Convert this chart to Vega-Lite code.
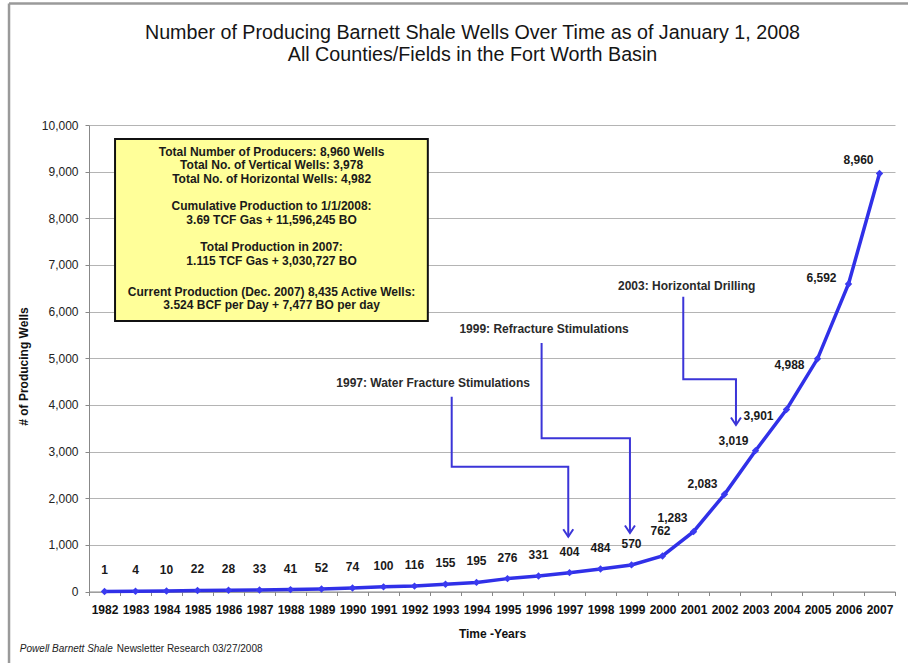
{
  "$schema": "https://vega.github.io/schema/vega-lite/v6.json",
  "width": 806,
  "height": 466.5,
  "autosize": {"type": "none"},
  "padding": {"left": 89, "top": 125, "right": 13, "bottom": 71.5},
  "background": "white",
  "title": {
    "text": ["Number of Producing Barnett Shale Wells Over Time as of January 1, 2008", "All Counties/Fields in the Fort Worth Basin"],
    "anchor": "middle",
    "frame": "group",
    "dx": -19.5,
    "offset": 0,
    "dy": 62,
    "font": "Liberation Sans",
    "fontSize": 19.7,
    "fontWeight": "normal",
    "lineHeight": 22,
    "color": "#151515"
  },
  "config": {
    "view": {"stroke": null},
    "font": "Liberation Sans",
    "text": {"font": "Liberation Sans"},
    "axis": {"labelOverlap": false}
  },
  "datasets": {
    "wells": [
      {"year": 1982, "wells": 1},
      {"year": 1983, "wells": 4},
      {"year": 1984, "wells": 10},
      {"year": 1985, "wells": 22},
      {"year": 1986, "wells": 28},
      {"year": 1987, "wells": 33},
      {"year": 1988, "wells": 41},
      {"year": 1989, "wells": 52},
      {"year": 1990, "wells": 74},
      {"year": 1991, "wells": 100},
      {"year": 1992, "wells": 116},
      {"year": 1993, "wells": 155},
      {"year": 1994, "wells": 195},
      {"year": 1995, "wells": 276},
      {"year": 1996, "wells": 331},
      {"year": 1997, "wells": 404},
      {"year": 1998, "wells": 484},
      {"year": 1999, "wells": 570},
      {"year": 2000, "wells": 762},
      {"year": 2001, "wells": 1283},
      {"year": 2002, "wells": 2083},
      {"year": 2003, "wells": 3019},
      {"year": 2004, "wells": 3901},
      {"year": 2005, "wells": 4988},
      {"year": 2006, "wells": 6592},
      {"year": 2007, "wells": 8960}
    ],
    "frame": [
      {"year": 1978.92, "year2": 2009.5, "wells": 12604, "wells2": 12604},
      {"year": 1978.92, "year2": 1978.92, "wells": 12604, "wells2": -1700}
    ],
    "summary": [
      {"year": 1982.34, "year2": 1992.43, "wells": 9700, "wells2": 5799}
    ],
    "summaryText": [
      {"year": 1987.39, "wells": 9428, "lines": ["Total Number of Producers: 8,960 Wells", "Total No. of Vertical Wells: 3,978", "Total No. of Horizontal Wells: 4,982"]},
      {"year": 1987.39, "wells": 8264, "lines": ["Cumulative Production to 1/1/2008:", "3.69 TCF Gas + 11,596,245 BO"]},
      {"year": 1987.39, "wells": 7378, "lines": ["Total Production in 2007:", "1.115 TCF Gas + 3,030,727 BO"]},
      {"year": 1987.39, "wells": 6427, "lines": ["Current Production (Dec. 2007) 8,435 Active Wells:", "3.524 BCF per Day + 7,477 BO per day"]}
    ],
    "notes": [
      {"note": "1997", "label": "1997: Water Fracture Stimulations", "year": 1992.6, "wells": 4476},
      {"note": "1999", "label": "1999: Refracture Stimulations", "year": 1996.18, "wells": 5627},
      {"note": "2003", "label": "2003: Horizontal Drilling", "year": 2000.78, "wells": 6549}
    ],
    "arrows": [
      {"note": "1997", "step": 0, "year": 1993.2, "wells": 4176},
      {"note": "1997", "step": 1, "year": 1993.2, "wells": 2675},
      {"note": "1997", "step": 2, "year": 1996.96, "wells": 2675},
      {"note": "1997", "step": 3, "year": 1996.96, "wells": 1175},
      {"note": "1999", "step": 0, "year": 1996.1, "wells": 5327},
      {"note": "1999", "step": 1, "year": 1996.1, "wells": 3284},
      {"note": "1999", "step": 2, "year": 1998.95, "wells": 3284},
      {"note": "1999", "step": 3, "year": 1998.95, "wells": 1254},
      {"note": "2003", "step": 0, "year": 2000.67, "wells": 6319},
      {"note": "2003", "step": 1, "year": 2000.67, "wells": 4549},
      {"note": "2003", "step": 2, "year": 2002.37, "wells": 4549},
      {"note": "2003", "step": 3, "year": 2002.37, "wells": 3569}
    ],
    "footer": [
      {"year": 1979.27, "wells": -1233, "italic": "Powell Barnett Shale", "rest": " Newsletter Research 03/27/2008"}
    ]
  },
  "layer": [
    {
      "data": {"name": "wells"},
      "mark": {"type": "line", "color": "#3030e8", "strokeWidth": 3.5},
      "encoding": {
        "x": {
          "field": "year",
          "type": "quantitative",
          "scale": {"domain": [1981.5, 2007.5], "nice": false, "zero": false},
          "axis": {
            "title": "Time -Years",
            "titleFont": "Liberation Sans",
            "titleFontSize": 12,
            "titleFontWeight": "bold",
            "titleColor": "#111",
            "titlePadding": 13,
            "values": [1981.5, 1982.5, 1983.5, 1984.5, 1985.5, 1986.5, 1987.5, 1988.5, 1989.5, 1990.5, 1991.5, 1992.5, 1993.5, 1994.5, 1995.5, 1996.5, 1997.5, 1998.5, 1999.5, 2000.5, 2001.5, 2002.5, 2003.5, 2004.5, 2005.5, 2006.5, 2007.5],
            "tickCount": 40,
            "labelExpr": "datum.value > 2007 ? '' : format(datum.value + 0.5, 'd')",
            "labelOffset": 15.5,
            "labelFont": "Liberation Sans",
            "labelFontSize": 12,
            "labelFontWeight": "bold",
            "labelColor": "#111",
            "labelPadding": 9,
            "labelOverlap": false,
            "labelBound": false,
            "labelFlush": false,
            "tickSize": 4,
            "tickColor": "#888",
            "domainColor": "#888",
            "grid": false
          }
        },
        "y": {
          "field": "wells",
          "type": "quantitative",
          "scale": {"domain": [0, 10000], "nice": false},
          "axis": {
            "title": "# of Producing Wells",
            "titleFont": "Liberation Sans",
            "titleFontSize": 12,
            "titleFontWeight": "bold",
            "titleColor": "#111",
            "titlePadding": 11,
            "titleY": 241,
            "values": [0, 1000, 2000, 3000, 4000, 5000, 6000, 7000, 8000, 9000, 10000],
            "tickCount": 20,
            "format": ",.0f",
            "labelFont": "Liberation Sans",
            "labelFontSize": 12,
            "labelColor": "#222",
            "labelPadding": 7,
            "tickSize": 4,
            "tickColor": "#888",
            "domainColor": "#888",
            "gridColor": "#b4b4b4",
            "gridWidth": 1
          }
        }
      }
    },
    {
      "data": {"name": "frame"},
      "mark": {"type": "rule", "color": "#9a9a9a", "strokeWidth": 2.5, "clip": false},
      "encoding": {
        "x": {"field": "year", "type": "quantitative"},
        "x2": {"field": "year2"},
        "y": {"field": "wells", "type": "quantitative"},
        "y2": {"field": "wells2"}
      }
    },
    {
      "data": {"name": "wells"},
      "mark": {"type": "point", "shape": "diamond", "filled": true, "color": "#3a3af0", "size": 55, "opacity": 1},
      "encoding": {
        "x": {"field": "year", "type": "quantitative"},
        "y": {"field": "wells", "type": "quantitative"}
      }
    },
    {
      "data": {"name": "summary"},
      "mark": {"type": "rect", "fill": "#ffff99", "stroke": "#111", "strokeWidth": 2},
      "encoding": {
        "x": {"field": "year", "type": "quantitative"},
        "x2": {"field": "year2"},
        "y": {"field": "wells", "type": "quantitative"},
        "y2": {"field": "wells2"}
      }
    },
    {
      "data": {"name": "summaryText"},
      "mark": {"type": "text", "align": "center", "baseline": "middle", "fontSize": 12, "fontWeight": "bold", "lineHeight": 13.6, "color": "#1a1a1a"},
      "encoding": {
        "x": {"field": "year", "type": "quantitative"},
        "y": {"field": "wells", "type": "quantitative"},
        "text": {"field": "lines"}
      }
    },
    {
      "data": {"name": "arrows"},
      "mark": {"type": "line", "color": "#3b35d8", "strokeWidth": 2, "interpolate": "linear"},
      "encoding": {
        "x": {"field": "year", "type": "quantitative"},
        "y": {"field": "wells", "type": "quantitative"},
        "detail": {"field": "note"},
        "order": {"field": "step"}
      }
    },
    {
      "data": {"name": "arrows"},
      "transform": [{"filter": "datum.step == 3"}],
      "mark": {"type": "point", "shape": "M-1,-1.5L0,0L1,-1.5", "filled": false, "color": "#3b35d8", "strokeWidth": 2, "size": 100, "opacity": 1},
      "encoding": {
        "x": {"field": "year", "type": "quantitative"},
        "y": {"field": "wells", "type": "quantitative"}
      }
    },
    {
      "data": {"name": "notes"},
      "mark": {"type": "text", "align": "center", "baseline": "middle", "fontSize": 12, "fontWeight": "bold", "color": "#2a2a2a"},
      "encoding": {
        "x": {"field": "year", "type": "quantitative"},
        "y": {"field": "wells", "type": "quantitative"},
        "text": {"field": "label"}
      }
    },
    {
      "data": {"name": "wells"},
      "transform": [{"filter": "datum.year <= 1999"}],
      "mark": {"type": "text", "align": "center", "baseline": "middle", "dy": -21, "fontSize": 12, "fontWeight": "bold", "color": "#1a1a1a"},
      "encoding": {
        "x": {"field": "year", "type": "quantitative"},
        "y": {"field": "wells", "type": "quantitative"},
        "text": {"field": "wells", "format": ",.0f"}
      }
    },
    {
      "data": {"name": "wells"},
      "transform": [{"filter": "datum.year == 2000"}],
      "mark": {"type": "text", "align": "center", "baseline": "middle", "dx": -2, "dy": -25, "fontSize": 12, "fontWeight": "bold", "color": "#1a1a1a"},
      "encoding": {
        "x": {"field": "year", "type": "quantitative"},
        "y": {"field": "wells", "type": "quantitative"},
        "text": {"field": "wells", "format": ",.0f"}
      }
    },
    {
      "data": {"name": "wells"},
      "transform": [{"filter": {"field": "year", "oneOf": [2001, 2007]}}],
      "mark": {"type": "text", "align": "right", "baseline": "middle", "dx": -6, "dy": -13.5, "fontSize": 12, "fontWeight": "bold", "color": "#1a1a1a"},
      "encoding": {
        "x": {"field": "year", "type": "quantitative"},
        "y": {"field": "wells", "type": "quantitative"},
        "text": {"field": "wells", "format": ",.0f"}
      }
    },
    {
      "data": {"name": "wells"},
      "transform": [{"filter": {"field": "year", "oneOf": [2002, 2003]}}],
      "mark": {"type": "text", "align": "right", "baseline": "middle", "dx": -7, "dy": -10, "fontSize": 12, "fontWeight": "bold", "color": "#1a1a1a"},
      "encoding": {
        "x": {"field": "year", "type": "quantitative"},
        "y": {"field": "wells", "type": "quantitative"},
        "text": {"field": "wells", "format": ",.0f"}
      }
    },
    {
      "data": {"name": "wells"},
      "transform": [{"filter": {"field": "year", "oneOf": [2004, 2005]}}],
      "mark": {"type": "text", "align": "right", "baseline": "middle", "dx": -13, "dy": 6, "fontSize": 12, "fontWeight": "bold", "color": "#1a1a1a"},
      "encoding": {
        "x": {"field": "year", "type": "quantitative"},
        "y": {"field": "wells", "type": "quantitative"},
        "text": {"field": "wells", "format": ",.0f"}
      }
    },
    {
      "data": {"name": "wells"},
      "transform": [{"filter": "datum.year == 2006"}],
      "mark": {"type": "text", "align": "right", "baseline": "middle", "dx": -12, "dy": -6, "fontSize": 12, "fontWeight": "bold", "color": "#1a1a1a"},
      "encoding": {
        "x": {"field": "year", "type": "quantitative"},
        "y": {"field": "wells", "type": "quantitative"},
        "text": {"field": "wells", "format": ",.0f"}
      }
    },
    {
      "data": {"name": "footer"},
      "mark": {"type": "text", "align": "left", "baseline": "middle", "fontSize": 10, "fontStyle": "italic", "color": "#222", "clip": false},
      "encoding": {
        "x": {"field": "year", "type": "quantitative"},
        "y": {"field": "wells", "type": "quantitative"},
        "text": {"field": "italic"}
      }
    },
    {
      "data": {"name": "footer"},
      "mark": {"type": "text", "align": "left", "baseline": "middle", "dx": 97, "fontSize": 10, "color": "#222", "clip": false},
      "encoding": {
        "x": {"field": "year", "type": "quantitative"},
        "y": {"field": "wells", "type": "quantitative"},
        "text": {"field": "rest"}
      }
    }
  ]
}
